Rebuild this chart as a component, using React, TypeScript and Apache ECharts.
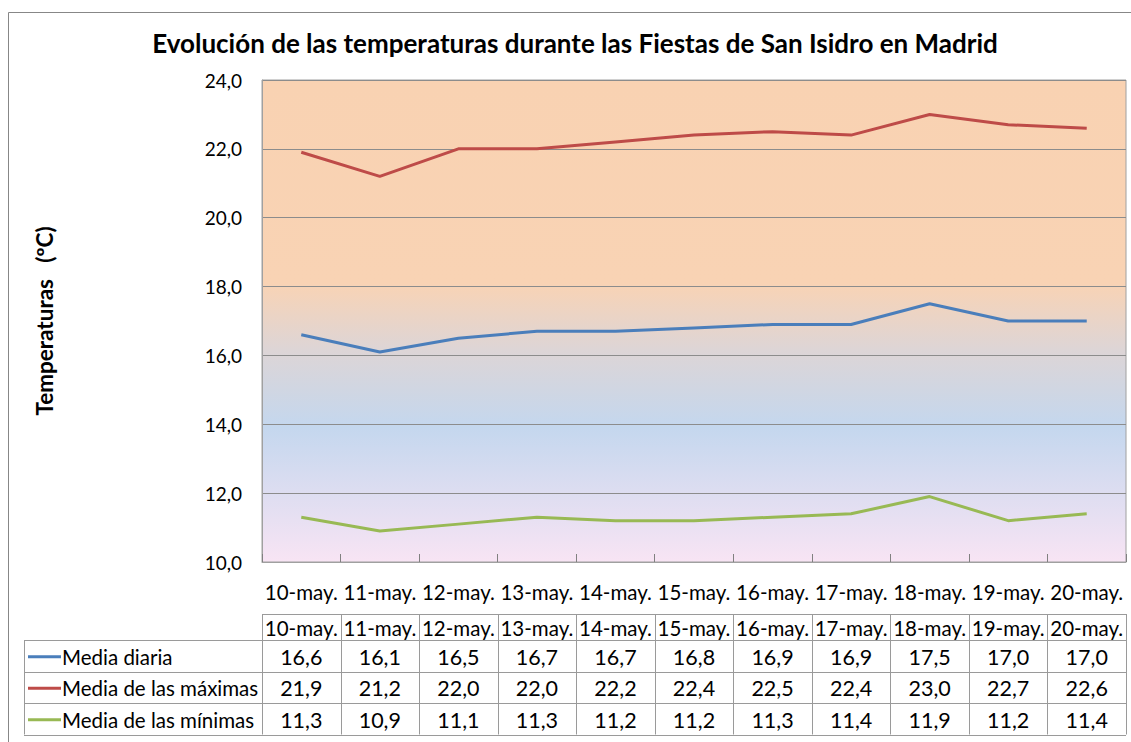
import React, { useEffect, useRef } from "react";
import * as echarts from "echarts";

const categories = ["10-may.", "11-may.", "12-may.", "13-may.", "14-may.", "15-may.", "16-may.", "17-may.", "18-may.", "19-may.", "20-may."];
const mediaDiaria = [16.6, 16.1, 16.5, 16.7, 16.7, 16.8, 16.9, 16.9, 17.5, 17.0, 17.0];
const mediaMaximas = [21.9, 21.2, 22.0, 22.0, 22.2, 22.4, 22.5, 22.4, 23.0, 22.7, 22.6];
const mediaMinimas = [11.3, 10.9, 11.1, 11.3, 11.2, 11.2, 11.3, 11.4, 11.9, 11.2, 11.4];
const seriesNames = ["Media diaria", "Media de las máximas", "Media de las mínimas"];
const seriesColors = ["#4A7EBB", "#BE4B48", "#98B954"];
const yTicks = { min: 10, max: 24, interval: 2 };
const titleText = "Evolución de las temperaturas durante las Fiestas de San Isidro en Madrid";
const yAxisName = "Temperaturas\u00A0\u00A0\u00A0(ºC)";

const FONT = "Lato, 'Noto Sans', sans-serif";
const fmt = (v: number) => v.toFixed(1).replace(".", ",");

export default function App() {
  const ref = useRef<HTMLDivElement>(null);
  useEffect(() => {
    if (!ref.current) return;
    const chart = echarts.init(ref.current, undefined, { renderer: "svg" });
    const gridLeft = 262, gridTop = 80, gridW = 864, gridH = 482;
    const colW = gridW / categories.length;
    const legendLeft = 24;
    const headerTop = 614, headerH = 26, rowH = 31.5;
    const allSeries = [mediaDiaria, mediaMaximas, mediaMinimas];
    const lineStyle = { stroke: "#9A9A9A", lineWidth: 1 };
    const tableFont = `20.5px ${FONT}`;

    const graphics: any[] = [];
    graphics.push({ type: "rect", shape: { x: 8.5, y: 12.5, width: 1140, height: 760 }, style: { fill: "none", stroke: "#878787", lineWidth: 1 }, silent: true });
    graphics.push({
      type: "text", x: 575, y: 43,
      style: { text: titleText, fill: "#000", font: `bold 26px ${FONT}`, align: "center", verticalAlign: "middle" },
    });
    const tableBottom = headerTop + headerH + rowH * allSeries.length;
    graphics.push({ type: "line", shape: { x1: gridLeft, y1: headerTop + 0.5, x2: gridLeft + gridW, y2: headerTop + 0.5 }, style: lineStyle });
    for (let r = 0; r <= allSeries.length; r++) {
      const y = Math.round(headerTop + headerH + r * rowH) + 0.5;
      graphics.push({ type: "line", shape: { x1: legendLeft, y1: y, x2: gridLeft + gridW, y2: y }, style: lineStyle });
    }
    graphics.push({ type: "line", shape: { x1: legendLeft + 0.5, y1: headerTop + headerH, x2: legendLeft + 0.5, y2: tableBottom }, style: lineStyle });
    for (let c = 0; c <= categories.length; c++) {
      const x = Math.round(gridLeft + c * colW) + 0.5;
      graphics.push({ type: "line", shape: { x1: x, y1: headerTop, x2: x, y2: tableBottom }, style: lineStyle });
    }
    categories.forEach((cat, c) => {
      graphics.push({
        type: "text", x: gridLeft + (c + 0.5) * colW, y: headerTop + headerH / 2 + 1,
        style: { text: cat, fill: "#000", font: tableFont, align: "center", verticalAlign: "middle" },
      });
    });
    allSeries.forEach((arr, r) => {
      const cy = headerTop + headerH + (r + 0.5) * rowH + 1;
      graphics.push({ type: "line", shape: { x1: legendLeft + 4, y1: cy, x2: legendLeft + 37, y2: cy }, style: { stroke: seriesColors[r], lineWidth: 3 } });
      graphics.push({
        type: "text", x: legendLeft + 38, y: cy,
        style: { text: seriesNames[r], fill: "#000", font: tableFont, align: "left", verticalAlign: "middle" },
      });
      arr.forEach((v, c) => {
        graphics.push({
          type: "text", x: gridLeft + (c + 0.5) * colW, y: cy,
          style: { text: fmt(v), fill: "#000", font: `21.5px ${FONT}`, align: "center", verticalAlign: "middle" },
        });
      });
    });

    chart.setOption({
      animation: false,
      grid: {
        left: gridLeft, top: gridTop, width: gridW, height: gridH,
        show: true, borderColor: "#A0A0A0", borderWidth: 1,
        backgroundColor: new echarts.graphic.LinearGradient(0, 0, 0, 1, [
          { offset: 0, color: "#F9D2B2" },
          { offset: 0.42, color: "#F9D3B4" },
          { offset: 0.56, color: "#DDD5D6" },
          { offset: 0.72, color: "#C4D7EE" },
          { offset: 1, color: "#F8E4F4" },
        ]),
      },
      xAxis: {
        type: "category",
        data: categories,
        boundaryGap: true,
        axisLine: { lineStyle: { color: "#A0A0A0" } },
        axisTick: { show: true, inside: true, length: 8, lineStyle: { color: "#808080" } },
        axisLabel: { fontFamily: FONT, fontSize: 20.5, color: "#000", margin: 19, interval: 0 },
      },
      yAxis: {
        type: "value",
        min: yTicks.min, max: yTicks.max, interval: yTicks.interval,
        name: yAxisName,
        nameLocation: "middle",
        nameGap: 206,
        nameRotate: 90,
        nameTextStyle: { fontFamily: FONT, fontWeight: "bold", fontSize: 22.5, color: "#000" },
        axisLine: { show: true, lineStyle: { color: "#A0A0A0" } },
        axisTick: { show: false },
        axisLabel: { fontFamily: FONT, fontSize: 19, color: "#000", margin: 20, formatter: (v: number) => fmt(v) },
        splitLine: { show: true, lineStyle: { color: "#8C8C8C", width: 1 } },
      },
      series: allSeries.map((arr, i) => ({
        type: "line",
        name: seriesNames[i],
        data: arr,
        symbol: "none",
        lineStyle: { color: seriesColors[i], width: 3 },
        itemStyle: { color: seriesColors[i] },
      })),
      graphic: graphics,
    });
    return () => chart.dispose();
  }, []);
  return <div ref={ref} style={{ position: "fixed", left: 0, top: 0, width: 1131, height: 742, background: "#fff" }} />;
}
